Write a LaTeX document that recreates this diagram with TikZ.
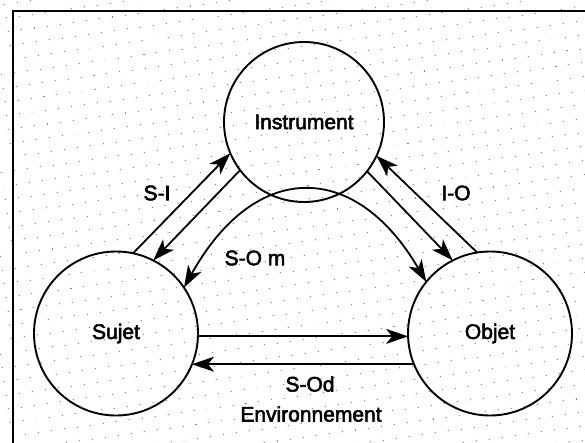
\documentclass[tikz,border=0pt]{standalone}
\usepackage{fontspec}
\setmainfont{Liberation Sans}[FakeBold=2.6]
\usetikzlibrary{arrows.meta,patterns.meta}
\begin{document}
\begin{tikzpicture}[x=1pt,y=-1pt,
  bigtip/.tip={Stealth[length=22pt,width=15pt,inset=6pt]},
  blob/.style={circle,draw,line width=1.9pt,inner sep=0pt,outer sep=0pt,font=\fontsize{21}{24}\selectfont},
  conn/.style={line width=1.8pt,-bigtip},
  bothconn/.style={line width=1.8pt,bigtip-bigtip},
  lbl/.style={font=\fontsize{21}{24}\selectfont,inner sep=0pt}]
\useasboundingbox (0,0) rectangle (585,443);
\fill[white] (0,0) rectangle (585,443);
\fill[pattern={Dots[distance=13pt,radius=0.7pt,angle=8]},pattern color=black!45] (0,0) rectangle (585,443);
\draw[line width=2.6pt] (13,450) -- (13,11) -- (600,11);
% circles
\node[blob,minimum size=160pt] (instr) at (304,122) {Instrument};
\node[blob,minimum size=164pt] (sujet) at (116,333.5) {Sujet};
\node[blob,minimum size=164pt] (objet) at (490,333.5) {Objet};
% S-I
\draw[conn] (sujet.78) -- (instr.203.5);
\draw[conn] (instr.217.7) -- (sujet.63.4);
% I-O
\draw[conn] (objet.99) -- (instr.335);
\draw[conn] (instr.322) -- (objet.117);
% S-O m
\draw[bothconn] (sujet.34) .. controls (255,160) and (355,160) .. (objet.141);
% S-O d
\draw[conn] (sujet.-2.5) -- (objet.182.5);
\draw[conn] (objet.202.2) -- (sujet.-22.2);
% labels
\node[lbl] (lsi) at (157,193) {S-I};
\node[lbl] (lio) at (456,193) {I-O};
\node[lbl] (lsom) at (255,258) {S-O m};
\node[lbl] (lsod) at (310,384) {S-Od};
\node[lbl] (lenv) at (311,414) {Environnement};
\end{tikzpicture}
\end{document}
